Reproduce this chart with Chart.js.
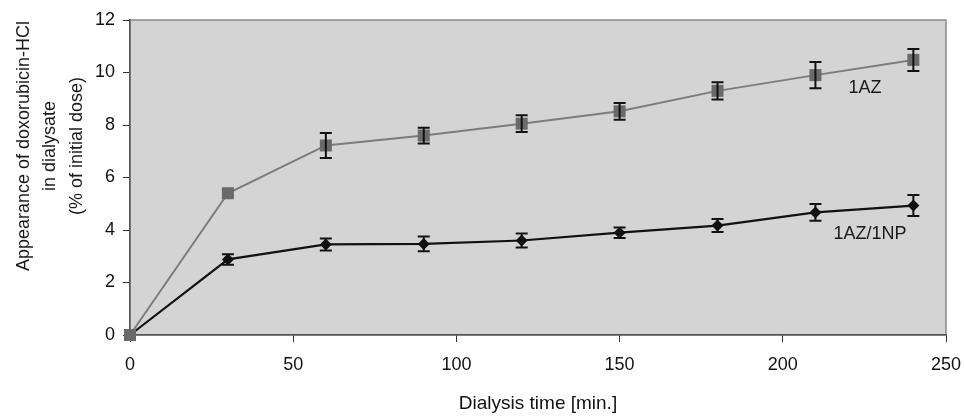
<!DOCTYPE html>
<html>
<head>
<meta charset="utf-8">
<script src="https://cdn.jsdelivr.net/npm/chart.js@4.4.1/dist/chart.umd.min.js"></script>
<style>
  html, body { margin: 0; padding: 0; background: #fff; }
  #wrap { width: 964px; height: 416px; }
</style>
</head>
<body>
<div id="wrap"><canvas id="chart" width="964" height="416"></canvas></div>
<script>
'use strict';

// times of sampling (min)
var times = [0, 30, 60, 90, 120, 150, 180, 210, 240];

// 1AZ series
var azValues = [0, 5.4, 7.22, 7.6, 8.05, 8.52, 9.3, 9.9, 10.48];
var azErrors = [0, 0, 0.48, 0.3, 0.32, 0.32, 0.33, 0.5, 0.42];

// 1AZ/1NP series
var npValues = [0, 2.88, 3.45, 3.47, 3.6, 3.9, 4.17, 4.67, 4.93];
var npErrors = [0, 0.2, 0.23, 0.28, 0.27, 0.2, 0.25, 0.32, 0.4];

var seriesNames = ['1AZ', '1AZ/1NP'];
var xTicks = [0, 50, 100, 150, 200, 250];
var yTicks = [0, 2, 4, 6, 8, 10, 12];

var xTitle = 'Dialysis time [min.]';
var yTitle = ['Appearance of doxorubicin-HCl', 'in dialysate', '(% of initial dose)'];

var toPoints = function(xs, ys) {
    var pts = [];
    for (var i = 0; i < xs.length; i++) {
        pts.push({x: xs[i], y: ys[i]});
    }
    return pts;
};

var FONT = '"Liberation Sans", Arial, sans-serif';

// grey plot background with frame
var plotBackground = {
    id: 'plotBackground',
    beforeDraw: function(chart) {
        var a = chart.chartArea;
        var ctx = chart.ctx;
        ctx.save();
        ctx.fillStyle = '#d4d4d4';
        ctx.fillRect(a.left, a.top, a.right - a.left, a.bottom - a.top);
        ctx.strokeStyle = '#8a8a8a';
        ctx.lineWidth = 1.5;
        ctx.strokeRect(a.left, a.top, a.right - a.left, a.bottom - a.top);
        ctx.restore();
    }
};

// vertical error bars with caps
var errorBars = {
    id: 'errorBars',
    afterDatasetsDraw: function(chart) {
        var ctx = chart.ctx;
        var xs = chart.scales.x;
        var ys = chart.scales.y;
        var sets = [[azValues, azErrors], [npValues, npErrors]];
        ctx.save();
        ctx.strokeStyle = '#111';
        ctx.lineWidth = 2;
        sets.forEach(function(s) {
            for (var i = 0; i < times.length; i++) {
                if (!s[1][i]) continue;
                var px = xs.getPixelForValue(times[i]);
                var top = ys.getPixelForValue(s[0][i] + s[1][i]);
                var bot = ys.getPixelForValue(s[0][i] - s[1][i]);
                ctx.beginPath();
                ctx.moveTo(px, top); ctx.lineTo(px, bot);
                ctx.moveTo(px - 6, top); ctx.lineTo(px + 6, top);
                ctx.moveTo(px - 6, bot); ctx.lineTo(px + 6, bot);
                ctx.stroke();
            }
        });
        ctx.restore();
    }
};

// series labels next to the curves, and the stacked y title
var labelsPlugin = {
    id: 'labelsPlugin',
    afterDraw: function(chart) {
        var ctx = chart.ctx;
        var xs = chart.scales.x;
        var ys = chart.scales.y;
        ctx.save();
        ctx.fillStyle = '#1a1a1a';
        ctx.font = '18px ' + FONT;
        ctx.textAlign = 'center';
        ctx.textBaseline = 'middle';
        ctx.fillText(seriesNames[0], xs.getPixelForValue(225.2), ys.getPixelForValue(9.41));
        ctx.fillText(seriesNames[1], xs.getPixelForValue(226.7), ys.getPixelForValue(3.85));

        ctx.translate(0, 146);
        ctx.rotate(-Math.PI / 2);
        for (var i = 0; i < yTitle.length; i++) {
            ctx.fillText(yTitle[i], 0, 24 + i * 26.5);
        }
        ctx.restore();
    }
};

var ctx = document.getElementById('chart').getContext('2d');

new Chart(ctx, {
    type: 'line',
    data: {
        datasets: [{
            label: seriesNames[0],
            data: toPoints(times, azValues),
            borderColor: '#7c7c7c',
            borderWidth: 2,
            pointStyle: 'rect',
            pointRadius: 8.5,
            pointBackgroundColor: '#6a6a6a',
            pointBorderColor: '#6a6a6a',
            pointBorderWidth: 0,
            tension: 0,
            clip: false
        }, {
            label: seriesNames[1],
            data: toPoints(times, npValues),
            borderColor: '#111',
            borderWidth: 2.2,
            pointStyle: 'rectRot',
            pointRadius: 6,
            pointBackgroundColor: '#111',
            pointBorderColor: '#111',
            pointBorderWidth: 0,
            tension: 0,
            clip: false
        }]
    },
    options: {
        responsive: false,
        animation: false,
        events: [],
        layout: {padding: {left: 0, top: 20, right: 18, bottom: 0}},
        plugins: {
            legend: {display: false},
            tooltip: {enabled: false}
        },
        scales: {
            x: {
                type: 'linear',
                min: 0,
                max: 250,
                afterBuildTicks: function(scale) {
                    scale.ticks = xTicks.map(function(v) { return {value: v}; });
                },
                afterFit: function(scale) {
                    scale.height = 81;
                    scale.paddingLeft = 0;
                    scale.paddingRight = 0;
                },
                grid: {display: true, drawOnChartArea: false, drawTicks: true, tickLength: 7, color: '#333'},
                border: {display: true, color: '#555', width: 1.5},
                ticks: {color: '#111', padding: 12, font: {family: FONT, size: 18}},
                title: {
                    display: true,
                    text: xTitle,
                    color: '#111',
                    font: {family: FONT, size: 19, lineHeight: 1.2},
                    padding: {top: 0, bottom: 1}
                }
            },
            y: {
                type: 'linear',
                min: 0,
                max: 12,
                afterBuildTicks: function(scale) {
                    scale.ticks = yTicks.map(function(v) { return {value: v}; });
                },
                afterFit: function(scale) {
                    scale.width = 130;
                    scale.paddingTop = 0;
                    scale.paddingBottom = 0;
                },
                grid: {display: true, drawOnChartArea: false, drawTicks: true, tickLength: 7, color: '#333'},
                border: {display: true, color: '#555', width: 1.5},
                ticks: {color: '#111', padding: 8, font: {family: FONT, size: 18}}
            }
        }
    },
    plugins: [plotBackground, errorBars, labelsPlugin]
});
</script>
</body>
</html>
